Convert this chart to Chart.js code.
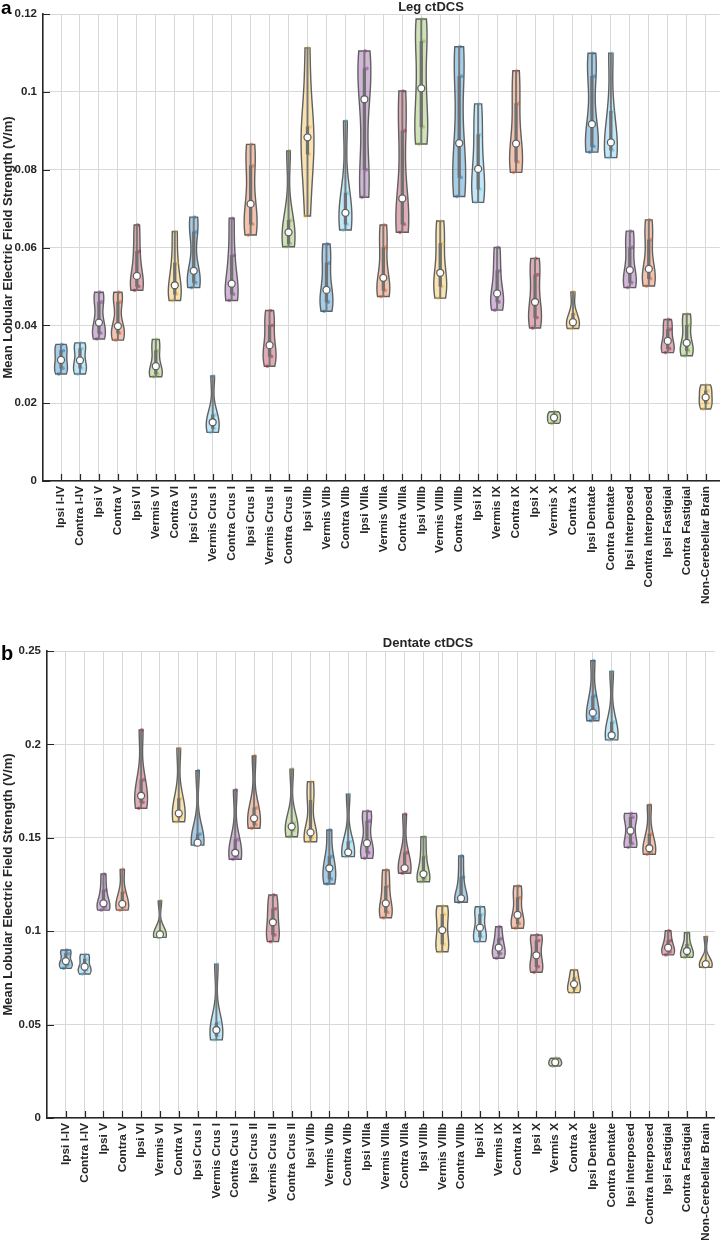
<!DOCTYPE html>
<html>
<head>
<meta charset="utf-8">
<script src="https://cdn.jsdelivr.net/npm/chart.js@4.4.0/dist/chart.umd.min.js"></script>
<style>
  html, body { margin: 0; padding: 0; background: #fff; }
  body { width: 725px; height: 1240px; position: relative; overflow: hidden; }
  .panel { position: absolute; left: 0; width: 725px; }
  #wrapA { top: 0; height: 610px; }
  #wrapB { top: 625px; height: 615px; }
</style>
</head>
<body>
<div class="panel" id="wrapA"><canvas id="legChart" width="725" height="610"></canvas></div>
<div class="panel" id="wrapB"><canvas id="dentateChart" width="725" height="615"></canvas></div>
<script>
// Regions (x categories)
const regions = [
  'Ipsi I-IV', 'Contra I-IV', 'Ipsi V', 'Contra V', 'Ipsi VI', 'Vermis VI', 'Contra VI',
  'Ipsi Crus I', 'Vermis Crus I', 'Contra Crus I', 'Ipsi Crus II', 'Vermis Crus II', 'Contra Crus II',
  'Ipsi VIIb', 'Vermis VIIb', 'Contra VIIb', 'Ipsi VIIIa', 'Vermis VIIIa', 'Contra VIIIa',
  'Ipsi VIIIb', 'Vermis VIIIb', 'Contra VIIIb', 'Ipsi IX', 'Vermis IX', 'Contra IX',
  'Ipsi X', 'Vermis X', 'Contra X', 'Ipsi Dentate', 'Contra Dentate', 'Ipsi Interposed',
  'Contra Interposed', 'Ipsi Fastigial', 'Contra Fastigial', 'Non-Cerebellar Brain'
];

// Leg ctDCS (V/m)
const legMin    = [0.0275, 0.0275, 0.0365, 0.0362, 0.0490, 0.0268, 0.0464, 0.0497, 0.0125, 0.0464, 0.0632, 0.0295, 0.0602,
                   0.0681, 0.0436, 0.0645, 0.0729, 0.0474, 0.0639, 0.0866, 0.0470, 0.0731, 0.0716, 0.0439, 0.0793,
                   0.0393, 0.0148, 0.0392, 0.0845, 0.0831, 0.0497, 0.0501, 0.0330, 0.0322, 0.0185];
const legQ1     = [0.0290, 0.0290, 0.0380, 0.0380, 0.0500, 0.0275, 0.0480, 0.0510, 0.0135, 0.0480, 0.0660, 0.0320, 0.0610,
                   0.0840, 0.0460, 0.0660, 0.0800, 0.0490, 0.0660, 0.0910, 0.0500, 0.0780, 0.0750, 0.0460, 0.0820,
                   0.0420, 0.0155, 0.0400, 0.0860, 0.0850, 0.0510, 0.0520, 0.0340, 0.0335, 0.0200];
const legMedian = [0.0311, 0.0310, 0.0407, 0.0398, 0.0527, 0.0295, 0.0503, 0.0540, 0.0151, 0.0507, 0.0712, 0.0349, 0.0639,
                   0.0883, 0.0491, 0.0689, 0.0981, 0.0522, 0.0726, 0.1009, 0.0535, 0.0868, 0.0802, 0.0482, 0.0867,
                   0.0460, 0.0163, 0.0408, 0.0917, 0.0870, 0.0542, 0.0545, 0.0360, 0.0355, 0.0215];
const legQ3     = [0.0335, 0.0340, 0.0460, 0.0460, 0.0590, 0.0335, 0.0560, 0.0640, 0.0170, 0.0580, 0.0810, 0.0400, 0.0670,
                   0.0910, 0.0560, 0.0740, 0.1060, 0.0600, 0.0900, 0.1130, 0.0610, 0.1040, 0.0890, 0.0540, 0.0970,
                   0.0530, 0.0170, 0.0430, 0.1040, 0.0950, 0.0600, 0.0620, 0.0390, 0.0400, 0.0232];
const legMax    = [0.0351, 0.0355, 0.0485, 0.0485, 0.0658, 0.0364, 0.0641, 0.0678, 0.0270, 0.0675, 0.0865, 0.0438, 0.0848,
                   0.1113, 0.0609, 0.0925, 0.1105, 0.0658, 0.1002, 0.1187, 0.0668, 0.1116, 0.0969, 0.0600, 0.1054,
                   0.0572, 0.0178, 0.0486, 0.1099, 0.1099, 0.0642, 0.0671, 0.0415, 0.0429, 0.0247];

// Dentate ctDCS (V/m)
const dentMin    = [0.0801, 0.0771, 0.1113, 0.1113, 0.1658, 0.0967, 0.1586, 0.1461, 0.0418, 0.1385, 0.1551, 0.0944, 0.1506,
                    0.1479, 0.1253, 0.1399, 0.1390, 0.1072, 0.1310, 0.1265, 0.0890, 0.1155, 0.0944, 0.0855, 0.1016,
                    0.0780, 0.0278, 0.0671, 0.2127, 0.2024, 0.1449, 0.1412, 0.0873, 0.0860, 0.0807];
const dentQ1     = [0.0820, 0.0790, 0.1130, 0.1130, 0.1690, 0.0975, 0.1610, 0.1470, 0.0440, 0.1400, 0.1570, 0.0980, 0.1540,
                    0.1500, 0.1280, 0.1410, 0.1420, 0.1100, 0.1325, 0.1280, 0.0930, 0.1170, 0.0970, 0.0880, 0.1040,
                    0.0810, 0.0288, 0.0690, 0.2140, 0.2035, 0.1470, 0.1425, 0.0890, 0.0870, 0.0815];
const dentMedian = [0.0840, 0.0810, 0.1149, 0.1146, 0.1725, 0.0983, 0.1631, 0.1474, 0.0471, 0.1420, 0.1604, 0.1048, 0.1560,
                    0.1529, 0.1337, 0.1422, 0.1471, 0.1149, 0.1338, 0.1306, 0.1006, 0.1176, 0.1019, 0.0912, 0.1087,
                    0.0871, 0.0298, 0.0717, 0.2170, 0.2049, 0.1538, 0.1444, 0.0912, 0.0894, 0.0824];
const dentQ3     = [0.0880, 0.0850, 0.1220, 0.1210, 0.1810, 0.0995, 0.1710, 0.1520, 0.0510, 0.1490, 0.1660, 0.1120, 0.1580,
                    0.1700, 0.1400, 0.1480, 0.1590, 0.1240, 0.1420, 0.1400, 0.1090, 0.1290, 0.1090, 0.0960, 0.1180,
                    0.0950, 0.0308, 0.0750, 0.2260, 0.2120, 0.1610, 0.1520, 0.0950, 0.0930, 0.0840];
const dentMax    = [0.0899, 0.0876, 0.1306, 0.1331, 0.2077, 0.1162, 0.1979, 0.1859, 0.0823, 0.1756, 0.1938, 0.1194, 0.1867,
                    0.1800, 0.1542, 0.1733, 0.1643, 0.1328, 0.1626, 0.1506, 0.1135, 0.1403, 0.1131, 0.1024, 0.1242,
                    0.0980, 0.0320, 0.0792, 0.2448, 0.2391, 0.1631, 0.1676, 0.1003, 0.0992, 0.0971];

const legTicks  = [0, 0.02, 0.04, 0.06, 0.08, 0.1, 0.12];
const dentTicks = [0, 0.05, 0.1, 0.15, 0.2, 0.25];

// MATLAB-ish colour order used by the violins
const palette = ['#0072BD', '#4DBEEE', '#7E2F8E', '#D95319', '#A2142F', '#77AC30', '#EDB120'];
const edgeGray = '#606060';
const ink = '#262626';
const FONT = "'Liberation Sans', Arial, Helvetica, sans-serif";

function rgba(hex, a) {
    const n = parseInt(hex.slice(1), 16);
    return `rgba(${(n >> 16) & 255},${(n >> 8) & 255},${n & 255},${a})`;
}

// violin bodies: kernel density of each region's summary values, drawn on the chart scales
function violinPlugin(stats) {
    return {
        id: 'violins',
        beforeDatasetsDraw(chart) {
            const {ctx, scales: {x, y}} = chart;
            ctx.save();
            stats.min.forEach((lo, i) => {
                const hi = stats.max[i];
                const pts = [lo, stats.q1[i], stats.median[i], stats.q3[i], hi];
                const bw = Math.max((hi - lo) * 0.22, 1e-6);
                const steps = 60;
                const vals = [], dens = [];
                for (let k = 0; k <= steps; k++) {
                    const v = lo + (hi - lo) * k / steps;
                    let d = 0;
                    pts.forEach(p => { const z = (v - p) / bw; d += Math.exp(-0.5 * z * z); });
                    vals.push(v);
                    dens.push(d);
                }
                const peak = Math.max(...dens);
                const cx = x.getPixelForValue(i + 1);
                const half = x.getPixelForValue(i + 1.34) - cx;
                ctx.beginPath();
                vals.forEach((v, k) => {
                    const px = cx + half * dens[k] / peak, py = y.getPixelForValue(v);
                    if (k === 0) ctx.moveTo(px, py); else ctx.lineTo(px, py);
                });
                for (let k = steps; k >= 0; k--) {
                    ctx.lineTo(cx - half * dens[k] / peak, y.getPixelForValue(vals[k]));
                }
                ctx.closePath();
                ctx.fillStyle = rgba(palette[i % palette.length], 0.35);
                ctx.fill();
                ctx.strokeStyle = edgeGray;
                ctx.lineWidth = 1.4;
                ctx.stroke();
            });
            ctx.restore();
        }
    };
}

// inward tick marks, panel letter and title
function decorPlugin(letter, letterSize, letterY, title, titleX, titleY) {
    return {
        id: 'decor',
        afterDraw(chart) {
            const {ctx, chartArea: a, scales: {x, y}} = chart;
            ctx.save();
            ctx.strokeStyle = ink;
            ctx.lineWidth = 1.2;
            ctx.beginPath();
            y.ticks.forEach(t => {
                const py = Math.round(y.getPixelForValue(t.value)) + 0.5;
                ctx.moveTo(a.left, py); ctx.lineTo(a.left + 7, py);
            });
            x.ticks.forEach(t => {
                const px = Math.round(x.getPixelForValue(t.value)) + 0.5;
                ctx.moveTo(px, a.bottom); ctx.lineTo(px, a.bottom - 7);
            });
            ctx.stroke();
            ctx.fillStyle = '#000';
            ctx.textAlign = 'left';
            ctx.textBaseline = 'alphabetic';
            ctx.font = `bold ${letterSize}px ${FONT}`;
            ctx.fillText(letter, 1, letterY);
            ctx.fillStyle = ink;
            ctx.textAlign = 'center';
            ctx.font = `bold 13px ${FONT}`;
            ctx.fillText(title, titleX, titleY);
            ctx.restore();
        }
    };
}

const dotJitter = [-0.12, 0.1, -0.05, 0.13, 0.04];

function makeViolinChart(canvasId, s, cfg) {
    const ctx = document.getElementById(canvasId).getContext('2d');
    const colors = regions.map((r, i) => palette[i % palette.length]);
    const dots = [];
    const dotColors = [];
    regions.forEach((r, i) => {
        [s.min[i], s.q1[i], s.median[i], s.q3[i], s.max[i]].forEach((v, k) => {
            dots.push({x: i + 1 + dotJitter[k], y: v});
            dotColors.push(rgba(colors[i], 0.45));
        });
    });

    new Chart(ctx, {
        type: 'bar',
        data: {
            datasets: [
                {
                    type: 'scatter',
                    label: 'Median',
                    order: 0,
                    data: regions.map((r, i) => ({x: i + 1, y: s.median[i]})),
                    pointRadius: 3.5,
                    pointBackgroundColor: '#ffffff',
                    pointBorderColor: edgeGray,
                    pointBorderWidth: 1.3
                },
                {
                    label: 'IQR',
                    order: 1,
                    data: regions.map((r, i) => ({x: i + 1, y: [s.q1[i], s.q3[i]]})),
                    backgroundColor: '#707070',
                    barThickness: 2.6,
                    grouped: false
                },
                {
                    label: 'Range',
                    order: 2,
                    data: regions.map((r, i) => ({x: i + 1, y: [s.min[i], s.max[i]]})),
                    backgroundColor: '#767676',
                    barThickness: 1.3,
                    grouped: false
                },
                {
                    type: 'scatter',
                    label: 'Samples',
                    order: 3,
                    data: dots,
                    pointRadius: 1.9,
                    pointBorderWidth: 0,
                    pointBackgroundColor: dotColors
                }
            ]
        },
        options: {
            responsive: false,
            animation: false,
            layout: { padding: { top: cfg.padTop, right: 3, left: 0, bottom: 0 } },
            plugins: {
                legend: { display: false },
                tooltip: { enabled: false },
                title: { display: false }
            },
            scales: {
                x: {
                    type: 'linear',
                    min: cfg.xMin,
                    max: cfg.xMax,
                    offset: false,
                    afterBuildTicks: sc => { sc.ticks = regions.map((r, i) => ({value: i + 1})); },
                    afterFit: sc => { sc.height = cfg.xHeight; },
                    grid: { color: '#d8d8d8', lineWidth: 1, drawTicks: false, offset: false },
                    border: { color: ink, width: 1.6 },
                    ticks: {
                        autoSkip: false,
                        minRotation: 90,
                        maxRotation: 90,
                        padding: 5,
                        color: ink,
                        font: { family: FONT, size: 11.8, weight: 'bold' },
                        callback: v => regions[v - 1] || ''
                    }
                },
                y: {
                    min: 0,
                    max: cfg.yTicks[cfg.yTicks.length - 1],
                    afterBuildTicks: sc => { sc.ticks = cfg.yTicks.map(v => ({value: v})); },
                    afterFit: sc => { sc.width = cfg.yWidth; },
                    grid: { color: '#d8d8d8', lineWidth: 1, drawTicks: false },
                    border: { color: ink, width: 1.6 },
                    ticks: {
                        padding: 6,
                        color: ink,
                        font: { family: FONT, size: 11.5, weight: 'bold' },
                        callback: v => String(+v.toFixed(3))
                    },
                    title: {
                        display: true,
                        text: 'Mean Lobular Electric Field Strength (V/m)',
                        color: ink,
                        font: { family: FONT, size: 13, weight: 'bold' },
                        padding: { top: 1, bottom: 0 }
                    }
                }
            }
        },
        plugins: [violinPlugin(s), decorPlugin(cfg.letter, cfg.letterSize, cfg.letterY, cfg.title, cfg.titleX, cfg.titleY)]
    });
}

makeViolinChart('legChart',
    { min: legMin, q1: legQ1, median: legMedian, q3: legQ3, max: legMax },
    { yTicks: legTicks, padTop: 14, xHeight: 129, yWidth: 43, xMin: 0.05, xMax: 35.74,
      letter: 'a', letterSize: 19, letterY: 13.5, title: 'Leg ctDCS', titleX: 431, titleY: 11 });

makeViolinChart('dentateChart',
    { min: dentMin, q1: dentQ1, median: dentMedian, q3: dentQ3, max: dentMax },
    { yTicks: dentTicks, padTop: 26, xHeight: 122, yWidth: 47, xMin: 0, xMax: 35.47,
      letter: 'b', letterSize: 20, letterY: 35, title: 'Dentate ctDCS', titleX: 428, titleY: 22 });
</script>
</body>
</html>
